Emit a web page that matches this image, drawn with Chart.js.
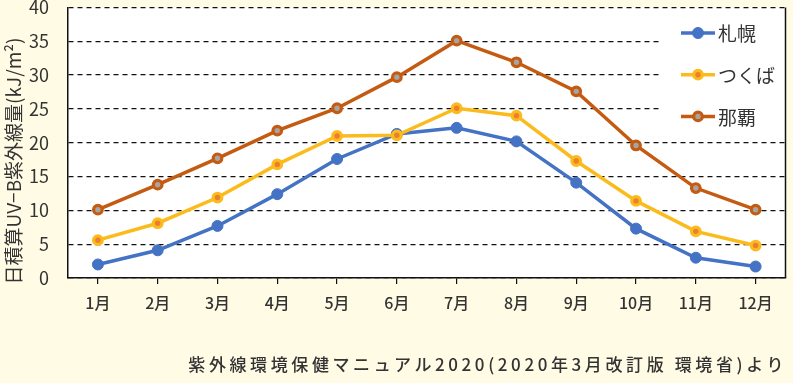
<!DOCTYPE html>
<html lang="ja">
<head>
<meta charset="utf-8">
<script src="https://cdn.jsdelivr.net/npm/chart.js@4.4.1/dist/chart.umd.min.js"></script>
<style>
  body{margin:0;background:#fffbe5;}
  #wrap{position:relative;width:793px;height:383px;}
  #source{position:absolute;right:6px;top:352px;line-height:24px;font-size:17px;font-family:"Noto Sans CJK JP";font-weight:500;letter-spacing:3.6px;color:#333;white-space:nowrap;}
</style>
</head>
<body>
<div id="wrap">
  <canvas id="uvChart" width="793" height="383"></canvas>
  <div id="source">紫外線環境保健マニュアル2020(2020年3月改訂版 環境省)より</div>
</div>
<script>
const months = ["1月","2月","3月","4月","5月","6月","7月","8月","9月","10月","11月","12月"];
const cities = ["札幌","つくば","那覇"];
const sapporo = [2.0, 4.1, 7.7, 12.4, 17.6, 21.3, 22.2, 20.2, 14.1, 7.3, 3.0, 1.7];
const tsukuba = [5.6, 8.1, 11.9, 16.8, 21.0, 21.1, 25.1, 24.0, 17.3, 11.4, 6.9, 4.8];
const naha = [10.1, 13.8, 17.7, 21.8, 25.1, 29.7, 35.1, 31.9, 27.6, 19.6, 13.3, 10.1];
const yMin = 0, yMax = 40, yStep = 5;
const yTitle = "日積算UV−B紫外線量(kJ/m²)";

const FONT = "'Noto Sans CJK JP', 'Noto Sans', sans-serif";
const TEXT = "#333";

// white plot area + right border + y title
const plotBg = {
  id:"plotBg",
  beforeDraw(chart){
    const {ctx, chartArea:a} = chart;
    ctx.save();
    ctx.fillStyle = "#fff";
    ctx.fillRect(a.left, a.top, a.right-a.left, a.bottom-a.top);
    ctx.restore();
  },
  afterDraw(chart){
    const {ctx, chartArea:a} = chart;
    ctx.save();
    ctx.strokeStyle = "#111";
    ctx.lineWidth = 1.5;
    ctx.beginPath();
    ctx.moveTo(a.right, a.top);
    ctx.lineTo(a.right, a.bottom);
    ctx.stroke();
    ctx.translate(14, 161);
    ctx.rotate(-Math.PI/2);
    ctx.fillStyle = TEXT;
    ctx.font = "19px " + FONT;
    ctx.textAlign = "center";
    ctx.textBaseline = "middle";
    ctx.fillText(yTitle, 0, 0);
    ctx.restore();
  }
};

// legend inside the plot, top right
const legendBox = {
  id:"legendBox",
  afterDatasetsDraw(chart){
    const ctx = chart.ctx;
    ctx.save();
    ctx.fillStyle = "#fff";
    ctx.fillRect(659, 16, 127, 114);
    chart.data.datasets.forEach((ds, i) => {
      const y = 33 + i*41.7;
      ctx.strokeStyle = ds.borderColor;
      ctx.lineWidth = ds.borderWidth;
      ctx.beginPath();
      ctx.moveTo(681, y);
      ctx.lineTo(715, y);
      ctx.stroke();
      ctx.beginPath();
      ctx.arc(698, y, ds.pointRadius, 0, Math.PI*2);
      ctx.fillStyle = ds.pointBackgroundColor;
      ctx.fill();
      ctx.lineWidth = ds.pointBorderWidth;
      ctx.strokeStyle = ds.pointBorderColor;
      ctx.stroke();
      ctx.fillStyle = TEXT;
      ctx.font = "19px " + FONT;
      ctx.textBaseline = "middle";
      ctx.fillText(ds.label, 718, y+1);
    });
    ctx.restore();
  }
};

new Chart(document.getElementById("uvChart"), {
  type:"line",
  data:{
    labels:months,
    datasets:[
      {label:cities[0], data:sapporo, order:1, borderColor:"#4472c4", borderWidth:3.5,
       pointRadius:5.5, pointBackgroundColor:"#4472c4", pointBorderColor:"#4472c4", pointBorderWidth:1},
      {label:cities[1], data:tsukuba, order:0, borderColor:"#fcbb1c", borderWidth:3.5,
       pointRadius:4.3, pointBackgroundColor:"#ed7d31", pointBorderColor:"#fcbb1c", pointBorderWidth:3.2},
      {label:cities[2], data:naha, order:2, borderColor:"#c55a11", borderWidth:3.5,
       pointRadius:4.3, pointBackgroundColor:"#a5a5a5", pointBorderColor:"#c55a11", pointBorderWidth:3.2}
    ]
  },
  options:{
    responsive:false,
    animation:false,
    layout:{padding:{top:5, right:2, bottom:65, left:0}},
    plugins:{legend:{display:false}, tooltip:{enabled:false}},
    elements:{line:{tension:0}},
    scales:{
      x:{
        offset:true,
        grid:{drawOnChartArea:false, drawTicks:true, tickLength:6, color:"#111", lineWidth:1.2},
        border:{display:true, color:"#111", width:1.5},
        ticks:{padding:9, color:TEXT, font:{family:FONT, size:16, weight:500}, maxRotation:0},
        afterFit(s){ s.height = 40; s.paddingLeft = 0; s.paddingRight = 0; }
      },
      y:{
        min:yMin, max:yMax,
        ticks:{stepSize:yStep, padding:19, color:TEXT, font:{family:FONT, size:18}},
        grid:{drawTicks:false, color:"#111", lineWidth:1.3},
        border:{display:true, color:"#111", width:1.5, dash:[5,4]},
        afterFit(s){ s.width = 68; s.paddingTop = 0; s.paddingBottom = 0; }
      }
    }
  },
  plugins:[plotBg, legendBox]
});
</script>
</body>
</html>
